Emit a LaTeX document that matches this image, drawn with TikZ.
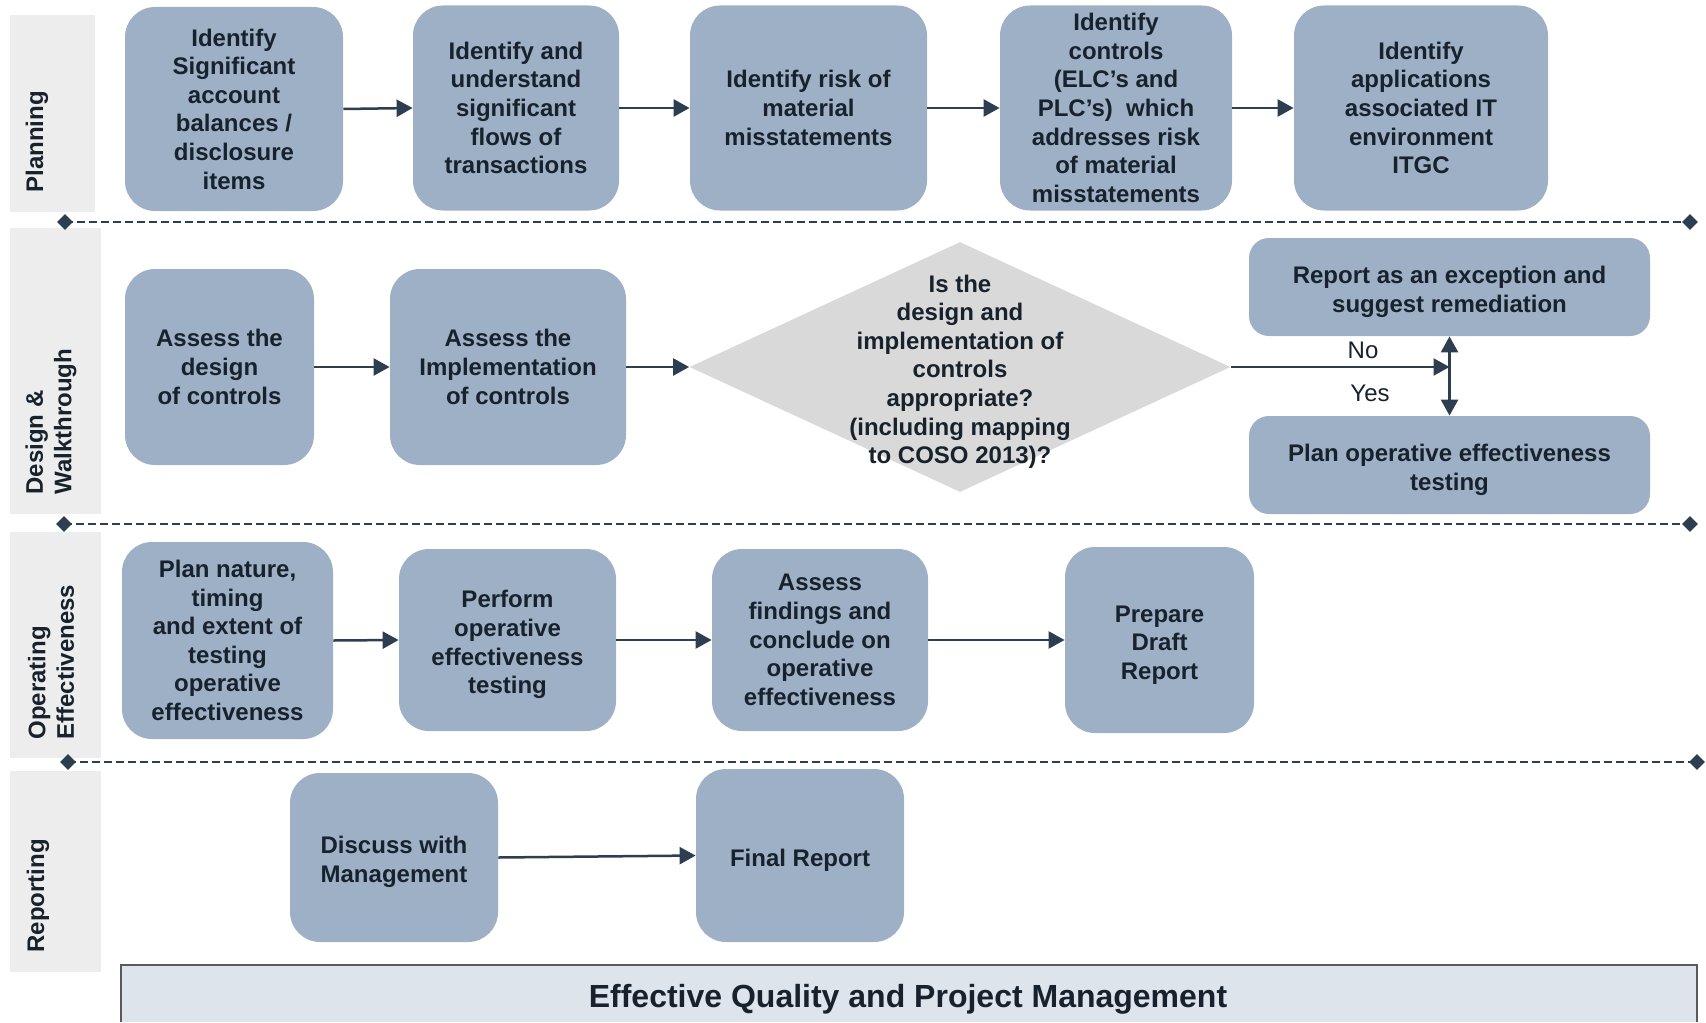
\documentclass[tikz,border=0pt]{standalone}
\usepackage{fontspec}
\setmainfont{Liberation Sans}
\usetikzlibrary{arrows.meta,shapes.geometric}
\definecolor{boxfill}{HTML}{9EB0C5}
\definecolor{txt}{HTML}{17222D}
\definecolor{arr}{HTML}{2D3E50}
\definecolor{lane}{HTML}{EDEDED}
\definecolor{diafill}{HTML}{D9D9D9}
\definecolor{barfill}{HTML}{DDE4EC}
\definecolor{barline}{HTML}{5A5A5A}
\newcommand{\lowr}{\rule{0pt}{13.3pt}}
\begin{document}
\begin{tikzpicture}[x=0.5pt,y=-0.5pt,
  sz/.style 2 args={minimum width=#1*0.5pt, minimum height=#2*0.5pt},
  stepbox/.style={rectangle, rounded corners=15pt, fill=boxfill, text=txt,
    font=\bfseries\fontsize{12}{14.3}\selectfont, align=center, inner sep=0pt},
  widebox/.style={stepbox, rounded corners=10pt},
  flow/.style={draw=arr, line width=1.25pt, -{Triangle[length=8pt,width=8.5pt]}},
  flowboth/.style={draw=arr, line width=1.25pt, {Triangle[length=8pt,width=8.5pt]}-{Triangle[length=8pt,width=8.5pt]}},
  lanetext/.style={rotate=90, anchor=west, align=left, font=\bfseries\fontsize{12}{14.3}\selectfont, text=txt, inner sep=0pt},
  sep/.style={draw=arr, line width=1.3pt, dash pattern=on 4pt off 2pt},
  endmark/.style={diamond, fill=arr, inner sep=0pt, minimum size=8pt},
  plain/.style={font=\fontsize{12}{14.3}\selectfont, text=txt, inner sep=0pt},
]
\useasboundingbox (0,0) rectangle (1706,1022);

% lanes
\fill[lane] (10,15) rectangle (95,212);
\fill[lane] (10,228) rectangle (101,514);
\fill[lane] (10,532) rectangle (101,758);
\fill[lane] (10,771) rectangle (101,972);
\node[lanetext] (lp) at (37,193) {Planning};
\node[lanetext] (ld) at (51,495) {Design \&\\Walkthrough};
\node[lanetext] (lo) at (51,740) {Operating\\Effectiveness};
\node[lanetext] (lr) at (38,953) {Reporting};

% separators
\coordinate (s1a) at (65,222); \coordinate (s1b) at (1690,222);
\coordinate (s2a) at (64,524); \coordinate (s2b) at (1690,524);
\coordinate (s3a) at (68,762); \coordinate (s3b) at (1697,762);
\draw[sep] (s1a) -- (s1b);
\draw[sep] (s2a) -- (s2b);
\draw[sep] (s3a) -- (s3b);
\foreach \c in {s1a,s1b,s2a,s2b,s3a,s3b} \node[endmark] (m\c) at (\c) {};

% planning
\node[stepbox, sz={218}{204}] (p1) at (234,109) {Identify\\Significant\\account\\balances /\\disclosure\\items};
\node[stepbox, sz={206}{205}] (p2) at (516,108) {Identify and\\understand\\significant\\flows of\\transactions};
\node[stepbox, sz={237}{205}] (p3) at (808.5,108) {Identify risk of\\material\\misstatements};
\node[stepbox, sz={232}{205}] (p4) at (1116,108) {Identify\\controls\\(ELC’s and\\PLC’s)\ \ which\\addresses risk\\of material\\misstatements};
\node[stepbox, sz={254}{205}] (p5) at (1421,108) {Identify\\applications\\associated IT\\environment\\ITGC};
\draw[flow] (p1.east) -- (p2.west);
\draw[flow] (p2.east) -- (p3.west);
\draw[flow] (p3.east) -- (p4.west);
\draw[flow] (p4.east) -- (p5.west);

% design
\node[stepbox, sz={189}{196}] (d1) at (219.5,367) {Assess the\\design\\of controls};
\node[stepbox, sz={236}{196}] (d2) at (508,367) {Assess the\\Implementation\\of controls};
\node[diamond, fill=diafill, inner sep=0pt, minimum width=270.5pt, minimum height=125pt] (dia) at (960,367) {};
\node[align=center, text=txt, font=\bfseries\fontsize{12}{14.3}\selectfont, inner sep=0pt] (diat) at (960,367) {\lowr Is the\\design and\\implementation of\\controls\\appropriate?\\(including mapping\\to COSO 2013)?};
\node[widebox, sz={401}{98}] (d3) at (1449.5,287) {\lowr Report as an exception and\\suggest remediation};
\node[widebox, sz={401}{98}] (d4) at (1449.5,465) {\lowr Plan operative effectiveness\\testing};
\coordinate (jn) at (1449.5,367);
\draw[flow] (d1.east) -- (d2.west);
\draw[flow] (d2.east) -- (dia.west);
\draw[flow] (dia.east) -- (jn);
\draw[flowboth] (d3.south) -- (d4.north);
\node[plain] (no) at (1363,350) {No};
\node[plain] (yes) at (1370,393) {Yes};

% operating
\node[stepbox, sz={211}{197}] (o1) at (227.5,640.5) {Plan nature,\\timing\\and extent of\\testing\\operative\\effectiveness};
\node[stepbox, sz={217}{182}] (o2) at (507.5,640) {\lowr Perform\\operative\\effectiveness\\testing};
\node[stepbox, sz={216}{182}] (o3) at (820,640) {Assess\\findings and\\conclude on\\operative\\effectiveness};
\node[stepbox, sz={189}{186}] (o4) at (1159.5,640) {\lowr Prepare\\Draft\\Report};
\draw[flow] (o1.east) -- (o2.west);
\draw[flow] (o2.east) -- (o3.west);
\draw[flow] (o3.east) -- (o4.west);

% reporting
\node[stepbox, sz={208}{169}] (r1) at (394,857.5) {\lowr Discuss with\\Management};
\node[stepbox, sz={208}{173}] (r2) at (800,855.5) {\lowr Final Report};
\draw[flow] (r1.east) -- (r2.west);

% bottom bar
\fill[barfill] (121,965) rectangle (1697,1022);
\draw[barline, line width=1pt] (121,1022) -- (121,965) -- (1697,965) -- (1697,1022);
\node[anchor=base, font=\bfseries\fontsize{16}{19}\selectfont, text=txt, inner sep=0pt] (bar) at (908,1007) {Effective Quality and Project Management};
\end{tikzpicture}
\end{document}
